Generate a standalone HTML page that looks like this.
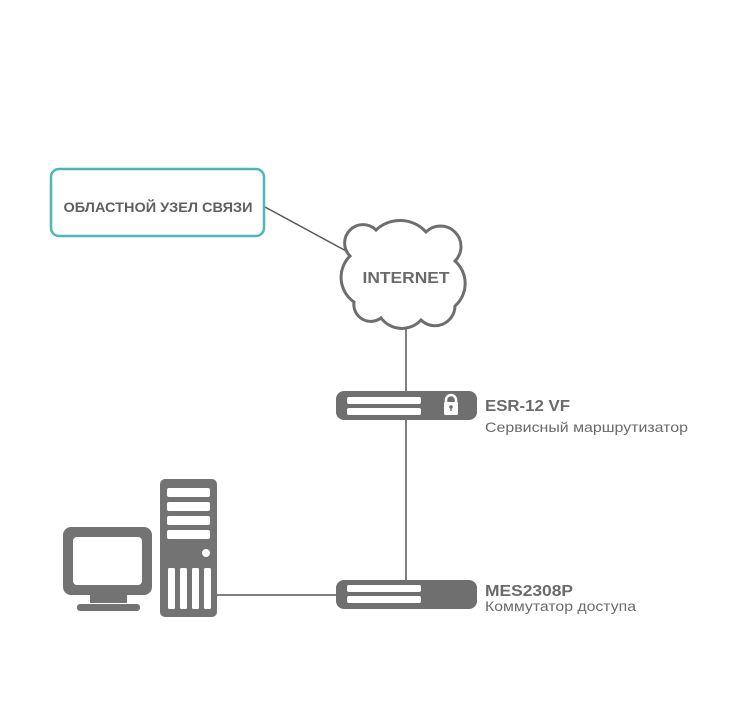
<!DOCTYPE html>
<html><head><meta charset="utf-8"><style>
html,body{margin:0;padding:0;background:#fff;}
svg{display:block;}
</style></head><body>
<svg width="733" height="720" viewBox="0 0 733 720" xmlns="http://www.w3.org/2000/svg">
<g stroke="#555" stroke-width="1.5" fill="none">
<line x1="265" y1="207" x2="348" y2="252"/>
<line x1="406" y1="328" x2="406" y2="582"/>
<line x1="217" y1="595" x2="337" y2="595"/>
</g>
<rect x="51" y="169" width="213" height="67" rx="8" fill="#fff" stroke="#4db6b8" stroke-width="2.5"/>
<text x="158" y="212" text-anchor="middle" font-family="Liberation Sans, sans-serif" font-weight="bold" font-size="14" fill="#5f5f5f" textLength="189" lengthAdjust="spacingAndGlyphs">ОБЛАСТНОЙ УЗЕЛ СВЯЗИ</text>
<path d="M354 302 A30 30 0 0 1 350 256 A18 18 0 0 1 376 230 A35 35 0 0 1 426 232 A20 20 0 0 1 455 261 A30 30 0 0 1 455 306 A20 20 0 0 1 421 320 A26 26 0 0 1 381 318 A17 17 0 0 1 354 302 Z" fill="#fff" stroke="#6e6e6e" stroke-width="3"/>
<text x="406" y="283" text-anchor="middle" font-family="Liberation Sans, sans-serif" font-weight="bold" font-size="16" fill="#6a6a6a" textLength="87" lengthAdjust="spacingAndGlyphs">INTERNET</text>
<!-- ESR -->
<rect x="336" y="391" width="141" height="29" rx="8" fill="#6f6f6f"/>
<rect x="347" y="397" width="74" height="7" rx="2" fill="#fff"/>
<rect x="347" y="408" width="74" height="7" rx="2" fill="#fff"/>
<path d="M446 403 V400 A5 5 0 0 1 456 400 V403" fill="none" stroke="#fff" stroke-width="2.5"/>
<rect x="444" y="402" width="14" height="13" rx="1.5" fill="#fff"/>
<circle cx="451" cy="407" r="1.8" fill="#6f6f6f"/><rect x="450.3" y="407" width="1.4" height="4" fill="#6f6f6f"/>
<text x="485" y="411" font-family="Liberation Sans, sans-serif" font-weight="bold" font-size="16" fill="#6a6a6a" textLength="85" lengthAdjust="spacingAndGlyphs">ESR-12 VF</text>
<text x="485" y="432" font-family="Liberation Sans, sans-serif" font-size="14" fill="#6a6a6a" textLength="203" lengthAdjust="spacingAndGlyphs">Сервисный маршрутизатор</text>
<!-- switch -->
<rect x="336" y="580" width="141" height="29" rx="8" fill="#6f6f6f"/>
<rect x="347" y="585" width="74" height="7" rx="2" fill="#fff"/>
<rect x="347" y="596" width="74" height="7" rx="2" fill="#fff"/>
<text x="485" y="596" font-family="Liberation Sans, sans-serif" font-weight="bold" font-size="16" fill="#6a6a6a" textLength="88" lengthAdjust="spacingAndGlyphs">MES2308P</text>
<text x="485" y="611" font-family="Liberation Sans, sans-serif" font-size="14" fill="#6a6a6a" textLength="151" lengthAdjust="spacingAndGlyphs">Коммутатор доступа</text>
<!-- monitor -->
<rect x="63" y="527" width="89" height="68" rx="8" fill="#737373"/>
<rect x="73" y="537" width="69" height="48" rx="4" fill="#fff"/>
<rect x="90" y="595" width="37" height="8" fill="#737373"/>
<rect x="77" y="604" width="63" height="7" rx="3" fill="#737373"/>
<!-- tower -->
<rect x="160" y="479" width="57" height="138" rx="5" fill="#737373"/>
<rect x="167" y="488" width="43" height="9" rx="2" fill="#fff"/>
<rect x="167" y="502" width="43" height="9" rx="2" fill="#fff"/>
<rect x="167" y="516" width="43" height="9" rx="2" fill="#fff"/>
<rect x="167" y="530" width="43" height="9" rx="2" fill="#fff"/>
<circle cx="206" cy="553" r="4" fill="#fff"/>
<rect x="168" y="568" width="7" height="41" rx="1.5" fill="#fff"/>
<rect x="180" y="568" width="7" height="41" rx="1.5" fill="#fff"/>
<rect x="192" y="568" width="7" height="41" rx="1.5" fill="#fff"/>
<rect x="204" y="568" width="7" height="41" rx="1.5" fill="#fff"/>
</svg>
</body></html>
